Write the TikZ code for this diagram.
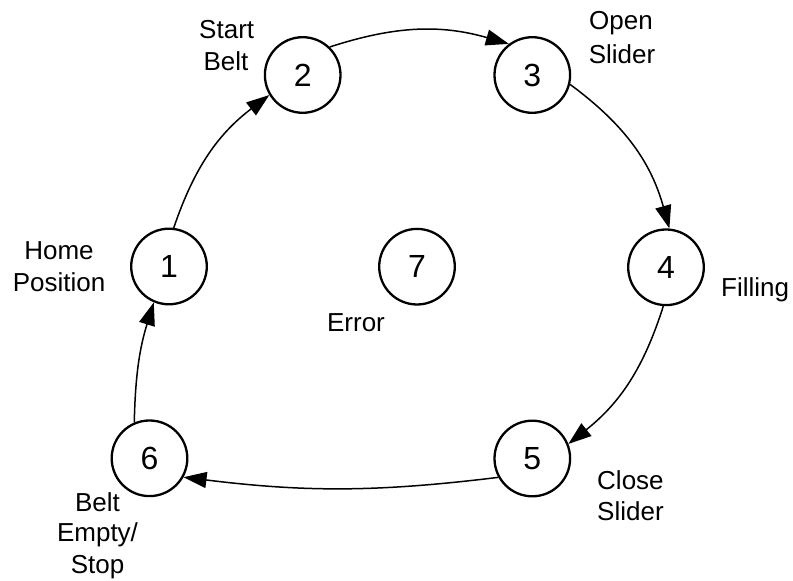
\documentclass[tikz,border=0pt]{standalone}
\usepackage{fontspec}
\setmainfont{Liberation Sans}
\usetikzlibrary{arrows.meta}

\begin{document}
\begin{tikzpicture}[
  x=1pt, y=1pt,
  state/.style={circle, draw, line width=2.3pt, minimum size=75.6pt,
    inner sep=0pt, font=\fontsize{32}{32}\selectfont},
  lbl/.style={inner sep=0pt, font=\fontsize{26}{31}\selectfont},
  trans/.style={line width=1.5pt, -{Triangle[length=23pt, width=16pt]}}
]
\useasboundingbox (0,0) rectangle (793,581);

% states of the filling station
\node[state] (n1) at (169,314.5) {1};
\node[state] (n2) at (302.7,506) {2};
\node[state] (n3) at (532.3,506) {3};
\node[state] (n4) at (666,313.7) {4};
\node[state] (n5) at (532.3,122.5) {5};
\node[state] (n6) at (149.5,122.7) {6};
\node[state] (n7) at (417,314.3) {7};

% state names, one node per line, placed on their baselines
\node[lbl, anchor=base] (l2a) at (226.7,542.7) {Start};
\node[lbl, anchor=base] (l2b) at (226,510.3) {Belt};
\node[lbl, anchor=base] (l3a) at (621,551) {Open};
\node[lbl, anchor=base] (l3b) at (622,517.7) {Slider};
\node[lbl, anchor=base] (l1a) at (59,321.7) {Home};
\node[lbl, anchor=base] (l1b) at (59,289.3) {Position};
\node[lbl, anchor=base west] (l4) at (721,284) {Filling};
\node[lbl, anchor=base] (l7) at (356,249.3) {Error};
\node[lbl, anchor=base west] (l5a) at (597,91.7) {Close};
\node[lbl, anchor=base west] (l5b) at (597,60.3) {Slider};
\node[lbl, anchor=base] (l6a) at (97.5,69.3) {Belt};
\node[lbl, anchor=base] (l6b) at (97.5,39.3) {Empty/};
\node[lbl, anchor=base] (l6c) at (97.5,7) {Stop};

% transitions of the cycle
\draw[trans] (n1.83)  to[bend left=17] (n2.211);
\draw[trans] (n2.46)  to[bend left=17] (n3.127);
\draw[trans] (n3.-14) to[bend left=19] (n4.85);
\draw[trans] (n4.266) to[bend left=17] (n5.22);
\draw[trans] (n5.209) to[bend left=7]  (n6.-29);
\draw[trans] (n6.113) to[bend left=8]  (n1.247);
\end{tikzpicture}
\end{document}
